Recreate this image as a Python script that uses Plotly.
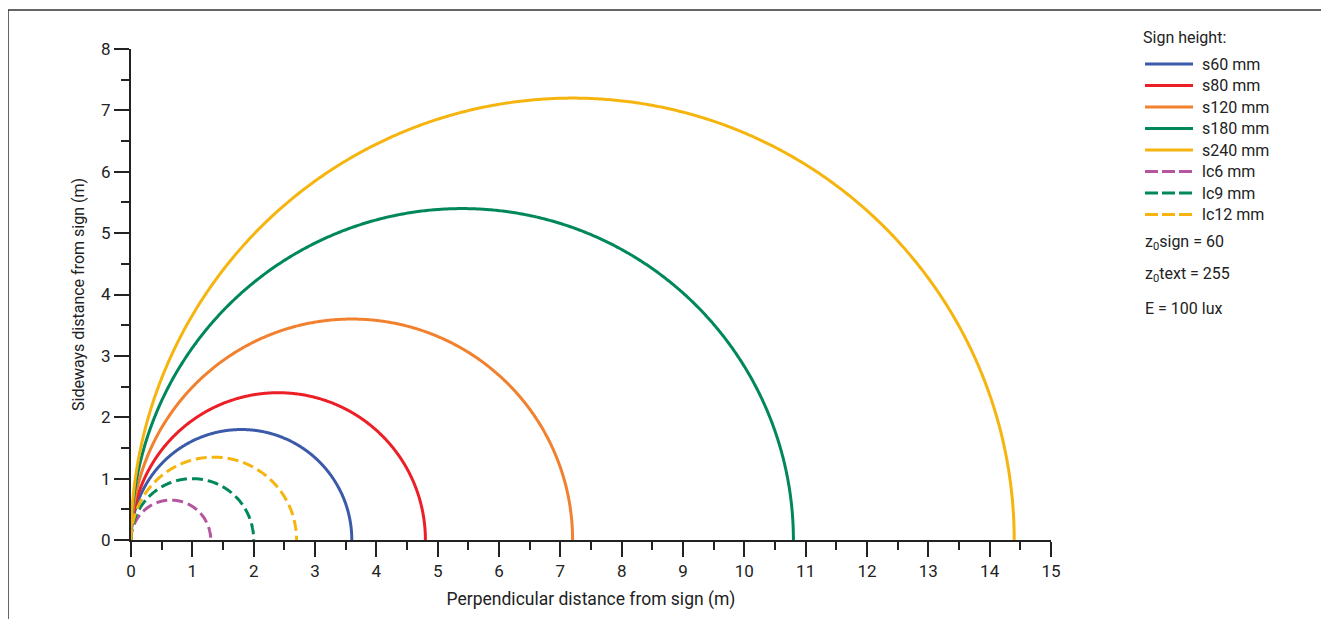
import numpy as np
import plotly.graph_objects as go

# Data: each curve is a semicircle through the sign position; values are diameters (m)
series_names = ["s60 mm", "s80 mm", "s120 mm", "s180 mm", "s240 mm", "lc6 mm", "lc9 mm", "lc12 mm"]
diameters_m = [3.6, 4.8, 7.2, 10.8, 14.4, 1.3, 2.0, 2.7]
x_ticks = list(range(0, 16))
y_ticks = list(range(0, 9))
legend_title = "Sign height:"
notes = ["z<sub>0</sub>sign = 60", "z<sub>0</sub>text = 255", "E = 100 lux"]

# Styles
colors = ["#3b5ba9", "#ec1f27", "#f1812e", "#00875a", "#f6b40f", "#b5559f", "#00875a", "#f6b40f"]
is_dashed = [False] * 5 + [True] * 3
CURVE_DASH = "11px,5px"
LEGEND_DASH = "13px,4px"

FONT = "Roboto, 'DejaVu Sans', sans-serif"
INK = "#222222"

# Layout geometry (page pixels; the page body adds an 8px offset)
W, H = 1321, 611
L, R, T, B = 123, 278, 41, 79
PW, PH = W - L - R, H - T - B


def px(xp):
    return (xp - 8 - L) / PW


def py(yp):
    return (T + PH - (yp - 8)) / PH


theta = np.linspace(0, np.pi, 600)
fig = go.Figure()
for name, d, c, dsh in zip(series_names, diameters_m, colors, is_dashed):
    r = d / 2.0
    fig.add_trace(go.Scatter(
        x=r - r * np.cos(theta),
        y=r * np.sin(theta),
        mode="lines",
        name=name,
        showlegend=False,
        line=dict(color=c, width=3, dash=CURVE_DASH if dsh else "solid", simplify=False),
        hoverinfo="skip",
    ))

axis_common = dict(
    tickmode="array",
    ticks="outside", ticklen=15, tickwidth=2, tickcolor=INK,
    showline=True, linecolor=INK, linewidth=2,
    showgrid=False, zeroline=False,
    tickfont=dict(size=17),
)

fig.update_layout(
    width=W, height=H,
    margin=dict(l=L, r=R, t=T, b=B),
    paper_bgcolor="white", plot_bgcolor="white",
    font=dict(family=FONT, size=16, color=INK),
    showlegend=False,
    xaxis=dict(
        range=[0, 15], tickvals=x_ticks, **axis_common,
        minor=dict(dtick=0.5, ticks="outside", ticklen=8, tickwidth=2, tickcolor=INK, showgrid=False),
        title=dict(text="Perpendicular distance from sign (m)", font=dict(size=17.5), standoff=12),
    ),
    yaxis=dict(
        range=[0, 8], tickvals=y_ticks, **axis_common,
        minor=dict(dtick=0.5, ticks="outside", ticklen=8, tickwidth=2, tickcolor=INK, showgrid=False),
        title=dict(text="Sideways distance from sign (m)", font=dict(size=16), standoff=12),
    ),
)

# Frame around the figure (cut off at right and bottom as in reference)
fig.add_shape(type="rect", xref="paper", yref="paper",
              x0=px(8), x1=px(1400), y0=py(700), y1=py(10),
              line=dict(color="#333333", width=1.5), fillcolor="rgba(0,0,0,0)", layer="below")

# Hand-built legend
fig.add_annotation(text=legend_title, xref="paper", yref="paper",
                   x=px(1141), y=py(37), xanchor="left", yanchor="middle", showarrow=False,
                   font=dict(size=16, color=INK, family=FONT))
row_y = [64, 85.5, 107, 128.5, 150, 171.5, 193, 214.5]
for i, (name, c, dsh) in enumerate(zip(series_names, colors, is_dashed)):
    yy = row_y[i]
    fig.add_shape(type="line", xref="paper", yref="paper",
                  x0=px(1145), x1=px(1193), y0=py(yy), y1=py(yy),
                  line=dict(color=c, width=3, dash=LEGEND_DASH if dsh else "solid"))
    fig.add_annotation(text=name, xref="paper", yref="paper",
                       x=px(1200), y=py(yy), xanchor="left", yanchor="middle", showarrow=False,
                       font=dict(size=16, color=INK, family=FONT))

for i, t in enumerate(notes):
    fig.add_annotation(text=t, xref="paper", yref="paper",
                       x=px(1143), y=py([242, 274, 308][i]),
                       xanchor="left", yanchor="middle", showarrow=False,
                       font=dict(size=16, color=INK, family=FONT))

fig.write_html("out.html")
